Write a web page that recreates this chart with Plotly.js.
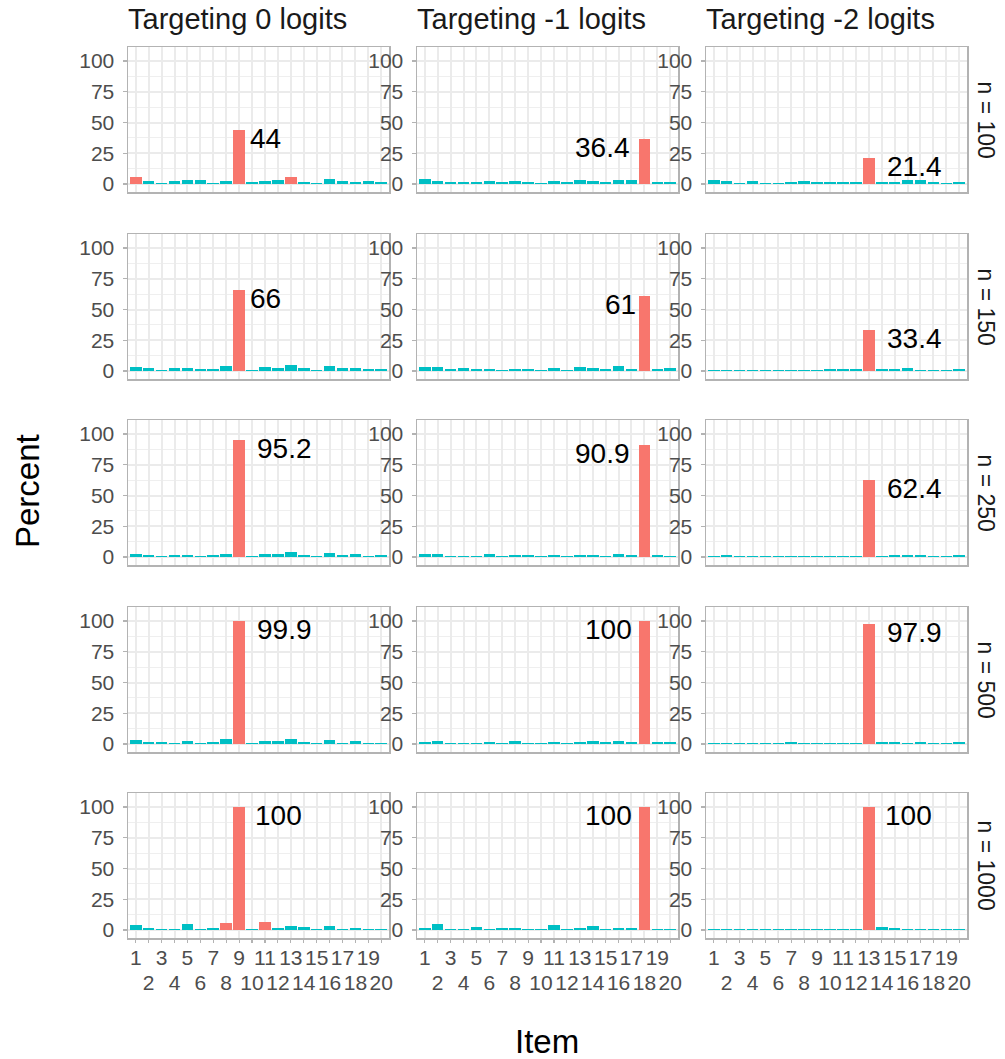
<!DOCTYPE html>
<html>
<head>
<meta charset="utf-8">
<script src="https://cdn.plot.ly/plotly-3.0.1.min.js"></script>
<style>html,body{margin:0;padding:0;background:#fff;}</style>
</head>
<body>
<div id="chart" style="width:1005px;height:1059px;"></div>
<script>
// Items 1..20, percent of replications flagging each item
const items = [1,2,3,4,5,6,7,8,9,10,11,12,13,14,15,16,17,18,19,20];
const evenItems = [2,4,6,8,10,12,14,16,18,20];
const targetLabels = ['Targeting 0 logits', 'Targeting -1 logits', 'Targeting -2 logits'];
const sampleLabels = ['n = 100', 'n = 150', 'n = 250', 'n = 500', 'n = 1000'];
const targetItems = [9, 18, 13];
const yTicks = [0, 25, 50, 75, 100];
const yMinorTicks = [12.5, 37.5, 62.5, 87.5];

// Targeting 0 logits (item 9)
const t0_n100  = [5.4,2.2,0.8,2.2,3.0,3.0,0.8,2.2,44,1.4,2.2,3.0,5.4,1.4,0.8,3.8,2.2,1.4,2.2,1.4];
const t0_n150  = [3.3,2.2,0.8,2.2,2.2,1.4,1.4,4.1,66,0.8,3.3,2.2,4.9,2.2,1.1,4.1,2.2,2.2,1.4,1.4];
const t0_n250  = [2.4,1.6,0.8,1.6,1.6,0.8,1.6,2.4,95.2,0.8,2.4,2.4,4.1,1.6,0.8,3.3,1.6,2.4,0.8,1.6];
const t0_n500  = [3.0,1.4,1.4,0.8,2.2,0.8,1.4,3.8,99.9,0.8,2.2,2.2,3.8,1.4,0.8,3.0,0.8,2.2,0.8,0.8];
const t0_n1000 = [3.8,1.5,0.8,1.0,4.5,0.8,2.0,5.6,100,1.0,6.5,2.0,3.5,2.5,1.0,3.5,1.0,2.0,1.0,1.0];

// Targeting -1 logits (item 18)
const t1_n100  = [3.8,2.2,1.4,1.4,1.4,2.2,1.4,2.2,1.4,0.8,2.2,1.4,3.0,2.2,1.4,3.0,3.0,36.4,1.4,1.4];
const t1_n150  = [3.3,3.3,1.4,2.2,1.4,1.4,1.1,1.4,1.4,0.8,2.2,1.1,3.3,2.2,1.4,4.1,1.4,61,1.4,2.2];
const t1_n250  = [2.4,2.4,0.8,0.8,0.8,2.4,0.8,1.6,1.6,0.8,1.6,0.8,1.6,1.6,0.8,2.4,1.6,90.9,1.6,0.8];
const t1_n500  = [1.4,2.2,0.8,0.8,0.8,1.4,0.8,2.2,0.8,0.8,1.4,0.8,1.4,2.2,1.4,2.2,1.4,100,1.4,1.4];
const t1_n1000 = [2.0,4.5,0.8,1.0,2.5,0.8,2.0,1.5,1.0,0.8,4.0,1.0,2.0,3.0,1.0,2.0,1.5,100,1.0,1.0];

// Targeting -2 logits (item 13)
const t2_n100  = [3.0,2.2,0.8,2.2,0.8,0.8,1.4,2.2,1.4,1.4,1.4,1.4,21.4,1.4,1.4,3.0,3.0,1.4,0.8,1.4];
const t2_n150  = [0.8,0.8,0.8,0.9,0.8,0.9,0.8,0.9,0.8,1.4,1.4,1.4,33.4,1.4,1.4,2.2,0.9,0.9,0.8,1.4];
const t2_n250  = [0.8,1.6,0.8,0.8,0.8,0.8,0.8,0.8,0.8,0.8,0.8,0.8,62.4,0.8,1.6,1.6,1.6,0.8,0.8,1.6];
const t2_n500  = [0.8,0.8,0.8,0.8,0.8,0.8,1.4,0.8,0.8,0.8,0.8,0.8,97.9,1.4,1.4,0.8,1.4,0.8,0.8,1.4];
const t2_n1000 = [0.8,1.0,0.8,0.8,0.8,0.8,1.0,1.0,1.0,1.0,1.0,1.0,100,2.5,1.5,1.0,0.8,0.8,0.8,1.0];

// rows = sample sizes, columns = targets
const panels = [
  [t0_n100,  t1_n100,  t2_n100],
  [t0_n150,  t1_n150,  t2_n150],
  [t0_n250,  t1_n250,  t2_n250],
  [t0_n500,  t1_n500,  t2_n500],
  [t0_n1000, t1_n1000, t2_n1000]
];

const W = 1005, H = 1059;
const RED = '#F8766D', TEAL = '#00BFC4';
const FONT = 'Liberation Sans, Arial, sans-serif';
const colLeft = [128, 417, 706];
const colWidth = 261;
const rowTops = [47, 234, 420, 607, 793];
const rowHeight = 145;

const data = [];
const layout = {
  width: W, height: H,
  margin: {l: 0, r: 0, t: 0, b: 0},
  paper_bgcolor: '#ffffff',
  plot_bgcolor: '#ffffff',
  showlegend: false,
  bargap: 0,
  font: {family: FONT, color: '#4D4D4D'},
  annotations: []
};

function fx(px) { return px / W; }
function fy(py) { return 1 - py / H; }

for (let r = 0; r < 5; r++) {
  const top = rowTops[r];
  const bottom = top + rowHeight;
  const isBottom = r === 4;
  for (let c = 0; c < 3; c++) {
    const k = r * 3 + c + 1;
    const xa = 'x' + (k === 1 ? '' : k);
    const ya = 'y' + (k === 1 ? '' : k);
    const vals = panels[r][c];
    data.push({
      type: 'bar', x: items, y: vals, xaxis: xa, yaxis: ya,
      width: 0.9,
      marker: {color: vals.map(v => v > 5 ? RED : TEAL), line: {width: 0}},
      hoverinfo: 'skip'
    });
    layout['xaxis' + (k === 1 ? '' : k)] = {
      domain: [fx(colLeft[c]), fx(colLeft[c] + colWidth)],
      anchor: ya,
      range: [0.4, 20.6],
      tickmode: 'array',
      tickvals: items,
      ticktext: items.map(i => (i % 2 === 1 && isBottom) ? String(i) : ''),
      ticks: isBottom ? 'outside' : '',
      ticklen: 3, tickcolor: '#B3B3B3', tickwidth: 1.2,
      ticklabelstandoff: -3,
      showticklabels: isBottom,
      tickfont: {size: 21, color: '#4D4D4D', family: FONT},
      showgrid: true, gridcolor: '#EBEBEB', gridwidth: 2,
      showline: true, mirror: true, linecolor: '#B3B3B3', linewidth: 1.5,
      zeroline: false, fixedrange: true
    };
    layout['yaxis' + (k === 1 ? '' : k)] = {
      domain: [fy(bottom), fy(top)],
      anchor: xa,
      range: [-6.5, 111.4],
      tickmode: 'array',
      tickvals: yTicks,
      ticktext: yTicks.map(String),
      ticks: 'outside', ticklen: 4, tickcolor: '#B3B3B3', tickwidth: 1.2,
      ticklabelstandoff: 4,
      tickfont: {size: 21, color: '#4D4D4D', family: FONT},
      showgrid: true, gridcolor: '#EBEBEB', gridwidth: 2,
      minor: {tickmode: 'array', tickvals: yMinorTicks, showgrid: true, gridcolor: '#EFEFEF', gridwidth: 1, ticks: ''},
      showline: true, mirror: true, linecolor: '#B3B3B3', linewidth: 1.5,
      zeroline: false, fixedrange: true
    };

    // value label on the targeted item's bar
    const tItem = targetItems[c];
    const tVal = vals[tItem - 1];
    const label = String(tVal);
    const digits = label.replace('.', '').length;
    const textW = 28 * (0.556 * digits + (label.includes('.') ? 0.278 : 0));
    const onLeft = c === 1;
    layout.annotations.push({
      xref: xa, yref: ya, x: tItem, y: tVal,
      text: label, showarrow: false,
      xanchor: onLeft ? 'right' : 'left', yanchor: 'top',
      xshift: onLeft ? -0.22 * textW : 0.3 * textW,
      yshift: 9,
      font: {size: 28, color: '#000000', family: FONT}
    });
  }
  // row strip on the right
  layout.annotations.push({
    xref: 'paper', yref: 'paper', x: fx(986), y: fy(top + rowHeight / 2),
    text: sampleLabels[r], showarrow: false, textangle: 90,
    xanchor: 'center', yanchor: 'middle',
    font: {size: 23, color: '#1A1A1A', family: FONT}
  });
}

// even item labels on a second line below the bottom row
for (let c = 0; c < 3; c++) {
  const base = 13 + c;
  const k = 16 + c;
  layout['xaxis' + k] = {
    overlaying: 'x' + base,
    anchor: 'y' + base,
    side: 'bottom',
    range: [0.4, 20.6],
    tickmode: 'array',
    tickvals: evenItems,
    ticktext: evenItems.map(String),
    ticks: '', ticklabelstandoff: 30,
    tickfont: {size: 21, color: '#4D4D4D', family: FONT},
    showgrid: false, showline: false, zeroline: false, fixedrange: true
  };
  data.push({
    type: 'scatter', mode: 'markers', x: [], y: [],
    xaxis: 'x' + k, yaxis: 'y' + base, hoverinfo: 'skip'
  });
}

// column titles
for (let c = 0; c < 3; c++) {
  layout.annotations.push({
    xref: 'paper', yref: 'paper', x: fx(colLeft[c] - 2), y: fy(19),
    text: targetLabels[c], showarrow: false,
    xanchor: 'left', yanchor: 'middle',
    font: {size: 29, color: '#1A1A1A', family: FONT}
  });
}

// axis titles
layout.annotations.push({
  xref: 'paper', yref: 'paper', x: fx(27), y: fy(491),
  text: 'Percent', showarrow: false, textangle: -90,
  xanchor: 'center', yanchor: 'middle',
  font: {size: 33, color: '#000000', family: FONT}
});
layout.annotations.push({
  xref: 'paper', yref: 'paper', x: fx(547), y: fy(1041),
  text: 'Item', showarrow: false,
  xanchor: 'center', yanchor: 'middle',
  font: {size: 33, color: '#000000', family: FONT}
});

Plotly.newPlot('chart', data, layout, {displayModeBar: false, staticPlot: true});
</script>
</body>
</html>
